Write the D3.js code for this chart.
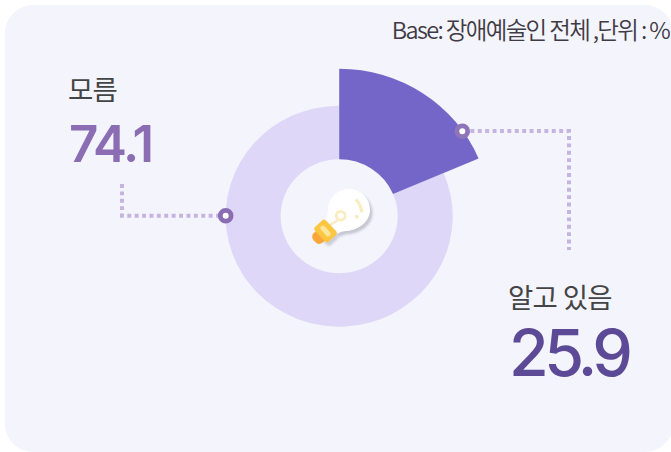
<!DOCTYPE html>
<html><head><meta charset="utf-8">
<script src="https://cdn.jsdelivr.net/npm/d3@7"></script>
<style>html,body{margin:0;padding:0;background:#fff}svg{display:block}text{font-family:"Noto Sans CJK KR","Noto Sans",sans-serif}</style>
</head><body><svg id="c" width="671" height="452"></svg>
<script>
const categories = ["알고 있음", "모름"];
const labelValues = ["25.9", "74.1"];
const drawnShares = [18.6, 81.4];
const sliceOuterRadius = [147.5, 110.5];
const baseNote = "Base: 장애예술인 전체 ,단위 : %";

const svg = d3.select("#c");
svg.append("rect").attr("x",5).attr("y",5).attr("width",668).attr("height",447).attr("rx",28).attr("fill","#f3f4fc");

const defs = svg.append("defs");
defs.append("filter").attr("id","sh").attr("x","-30%").attr("y","-30%").attr("width","160%").attr("height","160%")
  .append("feGaussianBlur").attr("stdDeviation",1.2);

const chart = svg.append("g").attr("transform","translate(339.2,216.2) scale(1.027,1)");
const pie = d3.pie().sort(null).value(d=>d);
const arcs = pie(drawnShares);
const fills = ["#7366c8","#ded7f7"];
const arc = d3.arc().innerRadius(57);
chart.selectAll("path.s").data(arcs.map((a,i)=>({a,i})).reverse()).join("path").attr("class","s")
  .attr("d",d=>arc.outerRadius(sliceOuterRadius[d.i])(d.a)).attr("fill",d=>fills[d.i]);

// leader lines
const lead = svg.append("g").attr("fill","none").attr("stroke","#c4b4df").attr("stroke-width",4).attr("stroke-dasharray","3.9 3.5");
const line = d3.line();
lead.append("path").attr("d",line([[122,184],[122,215.7],[226,215.7]]));
lead.append("path").attr("d",line([[463,131],[569,131],[569,250]]));
[[225.7,215.7,"#8a6db3"],[462.3,131.3,"#8e74b8"]].forEach(([x,y,c])=>{
  svg.append("circle").attr("cx",x).attr("cy",y).attr("r",5.4).attr("fill","#fff").attr("stroke",c).attr("stroke-width",4.8);
});

// bulb icon
const b = svg.append("g");
const bulbShape = "M325 220 C328 216 328 211 328 207 C330 195 340 189 349 189 C362 189 370 199 370 210 C370 222 358 230 347 231 C343 231 340 232 337 234 Z";
b.append("path").attr("d",bulbShape).attr("transform","translate(2.5,3)").attr("fill","#b4b4c2").attr("opacity",.7).attr("filter","url(#sh)");
b.append("path").attr("d",bulbShape).attr("fill","#fff");
b.append("path").attr("d","M330 225 L338 220").attr("stroke","#f8ecc0").attr("stroke-width",2.6).attr("fill","none");
b.append("circle").attr("cx",340.7).attr("cy",215.7).attr("r",4.4).attr("fill","#fff").attr("stroke","#f8ecc0").attr("stroke-width",2.8);
b.append("path").attr("d","M356.7 200.5 C359.5 203.5 361 207 361.5 211").attr("stroke","#f8ecc0").attr("stroke-width",3.2).attr("stroke-linecap","round").attr("fill","none");
b.append("circle").attr("cx",356.7).attr("cy",216.7).attr("r",2).attr("fill","#f8ecc0");
const socket = b.append("g").attr("transform","translate(325.5,231) rotate(47)");
socket.append("rect").attr("x",-10).attr("y",-7.5).attr("width",20).attr("height",15).attr("rx",3).attr("transform","translate(4,1)").attr("fill","#b4b4c2").attr("opacity",.6).attr("filter","url(#sh)");
socket.append("rect").attr("x",-6.5).attr("y",4).attr("width",13).attr("height",11).attr("rx",5).attr("fill","#fba63a");
socket.append("rect").attr("x",-10).attr("y",-7.5).attr("width",20).attr("height",15).attr("rx",2.5).attr("fill","#fdc640");
socket.append("rect").attr("x",-6.5).attr("y",-2.5).attr("width",13).attr("height",5).attr("rx",2.5).attr("fill","#fbe69c");

// text
svg.append("text").attr("x",669).attr("y",39).attr("text-anchor","end").attr("font-size",23.5).attr("font-weight",350).attr("letter-spacing",-1.65).attr("fill","#3f3a44").text(baseNote);
svg.append("text").attr("x",68).attr("y",100).attr("font-size",27.5).attr("letter-spacing",-0.7).attr("fill","#444").text(categories[1]);
svg.append("text").attr("x",508).attr("y",308).attr("font-size",27.5).attr("letter-spacing",-0.7).attr("fill","#444").text(categories[0]);
svg.append("text").attr("x",69).attr("y",162).attr("font-size",51).attr("font-weight",600).attr("letter-spacing",-2.3).attr("style","font-family:Inter").attr("fill","#8a6db3").text(labelValues[1]);
svg.append("text").attr("x",509).attr("y",376).attr("font-size",64.5).attr("font-weight",500).attr("letter-spacing",-4.6).attr("style","font-family:Inter").attr("fill","#5d4a97").text(labelValues[0]);
</script></body></html>
